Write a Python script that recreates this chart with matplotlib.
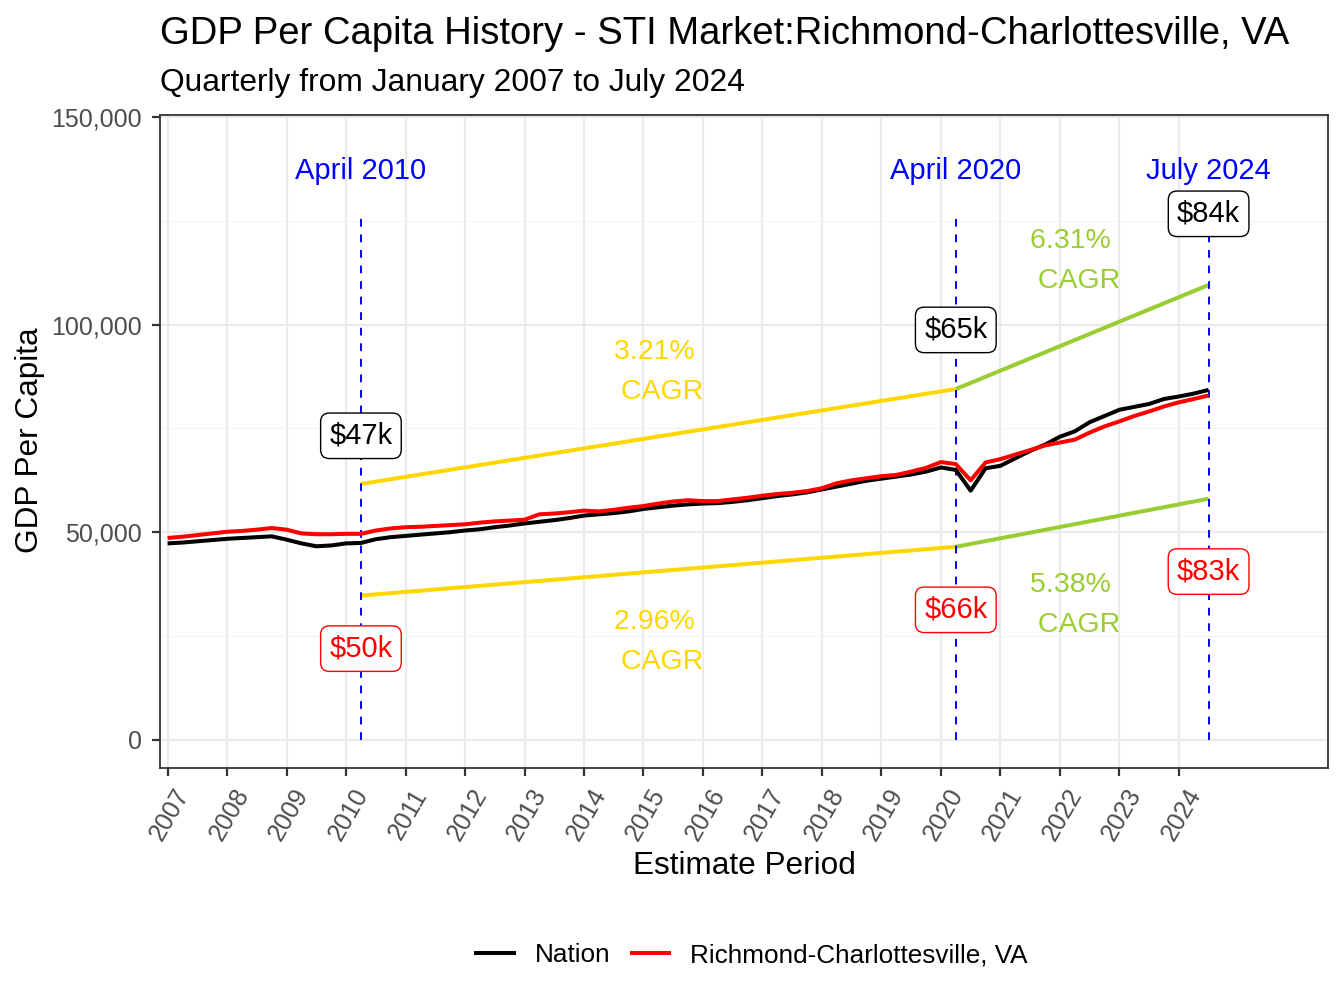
import numpy as np
import matplotlib
matplotlib.use("Agg")
import matplotlib.pyplot as plt
import matplotlib.transforms as mtransforms
from matplotlib.lines import Line2D

plt.rcParams['font.family'] = ['Liberation Sans', 'DejaVu Sans']

# ---- data (GDP per capita, thousands of dollars, quarterly 2007 Q1 .. 2024 Q3) ----
start_year = 2007.0
nation_k = [
    47.3, 47.5, 47.8, 48.1,
    48.4, 48.6, 48.8, 49.0,
    48.2, 47.3, 46.6, 46.8,
    47.3, 47.4, 48.3, 48.8,
    49.1, 49.4, 49.7, 50.0,
    50.4, 50.7, 51.2, 51.6,
    52.1, 52.5, 52.9, 53.4,
    54.0, 54.3, 54.6, 55.0,
    55.6, 56.0, 56.4, 56.7,
    56.9, 57.0, 57.3, 57.7,
    58.2, 58.7, 59.1, 59.6,
    60.3, 61.0, 61.7, 62.4,
    62.9, 63.4, 63.9, 64.6,
    65.6, 65.0, 60.0, 65.4,
    66.0, 67.8, 69.6, 71.1,
    73.0, 74.3, 76.5, 78.0,
    79.5, 80.2, 80.9, 82.1,
    82.7, 83.4, 84.3,
]
region_k = [
    48.6, 48.9, 49.3, 49.7,
    50.1, 50.3, 50.6, 51.0,
    50.6, 49.7, 49.5, 49.5,
    49.6, 49.6, 50.4, 50.9,
    51.2, 51.3, 51.5, 51.7,
    51.9, 52.3, 52.6, 52.8,
    53.0, 54.3, 54.5, 54.8,
    55.2, 55.0, 55.4, 55.9,
    56.3, 56.9, 57.4, 57.7,
    57.5, 57.5, 57.9, 58.3,
    58.8, 59.2, 59.5, 59.9,
    60.6, 61.8, 62.5, 63.0,
    63.5, 63.8, 64.6, 65.5,
    66.9, 66.4, 62.5, 66.8,
    67.6, 68.7, 69.8, 70.9,
    71.6, 72.3, 74.0, 75.5,
    76.7, 78.0, 79.1, 80.3,
    81.3, 82.1, 82.95,
]
series_names = ["Nation", "Richmond-Charlottesville, VA"]
event_dates = [2010.25, 2020.25, 2024.5]
event_labels = ["April 2010", "April 2020", "July 2024"]
year_ticks = list(range(2007, 2025))
y_ticks = [0, 50000, 100000, 150000]

nation = np.array(nation_k) * 1000
region = np.array(region_k) * 1000
dates = start_year + 0.25 * np.arange(len(nation))

def val_at(arr, d):
    return float(np.interp(d, dates, arr))

# ---- figure ----
W, H = 1344, 1008
fig = plt.figure(figsize=(W / 100, H / 100), dpi=100)
L, R, T, B = 160, 1328, 115, 768
ax = fig.add_axes([L / W, 1 - B / H, (R - L) / W, (B - T) / H])

ax.set_xlim(2006.872, 2026.507)
ax.set_ylim(-6840, 150550)

# grid
ax.set_yticks(y_ticks)
ax.set_yticks([25000, 75000, 125000], minor=True)
ax.set_xticks(year_ticks)
ax.grid(which='major', color='#EBEBEB', lw=1.6, zorder=0)
ax.grid(which='minor', axis='y', color='#F2F2F2', lw=0.8, zorder=0)
ax.set_axisbelow(True)

# series
ax.plot(dates, nation, color='black', lw=2.9, zorder=4, solid_capstyle='butt')
ax.plot(dates, region, color='red', lw=2.9, zorder=4, solid_capstyle='butt')

# CAGR projection lines
c_yellow, c_green = '#FFD700', '#9ACD32'
cagr_text_offset = [16300, 19000]   # vertical gap between segment midpoint and its label
cagr_text_shift = -800
vals_n = [val_at(nation, d) for d in event_dates]
vals_r = [val_at(region, d) for d in event_dates]
for k in range(2):
    d0, d1 = event_dates[k], event_dates[k + 1]
    col = c_yellow if k == 0 else c_green
    yrs = d1 - d0
    seg_dates = dates[(dates >= d0 - 1e-9) & (dates <= d1 + 1e-9)]
    xm = seg_dates[(len(seg_dates) - 1) // 2]
    for vals, factor, sign in ((vals_n, 1.3, 1), (vals_r, 0.7, -1)):
        cagr = (vals[k + 1] / vals[k]) ** (1 / yrs) - 1
        y0, y1 = factor * vals[k], factor * vals[k + 1]
        ax.plot([d0, d1], [y0, y1], color=col, lw=2.9, zorder=3, solid_capstyle='butt')
        ym = (y0 + y1) / 2
        ax.text(xm, ym + sign * cagr_text_offset[k] + cagr_text_shift,
                f"{cagr * 100:.2f}% \n CAGR", color=col,
                fontsize=20.5, ha='center', va='center', multialignment='center',
                linespacing=1.7, zorder=5)

# event lines and labels
top = 1.5 * max(vals_n)
box_kw = dict(boxstyle='round,pad=0.3,rounding_size=0.3', fc='white', lw=1.0)
for d, lab, vn, vr in zip(event_dates, event_labels, vals_n, vals_r):
    ax.plot([d, d], [0, top], color='blue', lw=1.4, ls=(0, (4, 4)), zorder=3)
    ax.text(d, 1.627 * max(vals_n), lab, color='blue', fontsize=21,
            ha='center', va='center', zorder=6)
    ax.text(d, 1.45 * vn + 4500, f"${vn / 1000:.0f}k", color='black', fontsize=21,
            ha='center', va='center', zorder=7, bbox=dict(box_kw, ec='black'))
    ax.text(d, 0.557 * vr - 5700, f"${vr / 1000:.0f}k", color='red', fontsize=21,
            ha='center', va='center', zorder=7, bbox=dict(box_kw, ec='red'))

# axes styling
for s in ax.spines.values():
    s.set_color('#333333')
    s.set_linewidth(1.3)
ax.yaxis.set_major_formatter(matplotlib.ticker.FuncFormatter(lambda v, p: f"{int(v):,}"))
ax.tick_params(axis='both', which='major', length=6, width=1.6, color='#333333',
               labelcolor='#4D4D4D', labelsize=18, pad=3)
ax.tick_params(axis='y', which='major', pad=7)
ax.tick_params(axis='y', which='minor', length=0)
ax.set_xticklabels([str(y) for y in year_ticks], rotation=60, ha='right', va='top',
                   rotation_mode='anchor')
offset = mtransforms.ScaledTranslation(6 / 100, -4 / 100, fig.dpi_scale_trans)
for lbl in ax.get_xticklabels():
    lbl.set_transform(lbl.get_transform() + offset)

fig.text(L / W, 1 - 44 / H, "GDP Per Capita History - STI Market:Richmond-Charlottesville, VA",
         fontsize=27.5, ha='left', va='baseline', color='black')
fig.text(L / W, 1 - 91 / H, "Quarterly from January 2007 to July 2024",
         fontsize=22.9, ha='left', va='baseline', color='black')
fig.text((L + R) / 2 / W, 1 - 866 / H, "Estimate Period", fontsize=22.7,
         ha='center', va='center')
fig.text(30 / W, 1 - 440 / H, "GDP Per Capita", fontsize=22.7,
         ha='center', va='center', rotation=90)

handles = [Line2D([], [], color='black', lw=2.9), Line2D([], [], color='red', lw=2.9)]
fig.legend(handles, series_names, loc='center', bbox_to_anchor=(752 / W, 1 - 955 / H),
           ncol=2, frameon=False, fontsize=18.8, handlelength=1.45, handletextpad=0.8,
           columnspacing=0.8)

fig.savefig("out.png", dpi=100)
